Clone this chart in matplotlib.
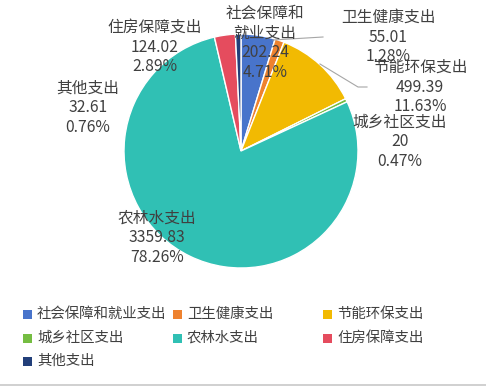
import matplotlib
matplotlib.use("Agg")
import matplotlib.pyplot as plt
from matplotlib.patches import Rectangle

plt.rcParams["font.family"] = ["Noto Sans CJK SC", "DejaVu Sans"]

# 數據
categories = ["社会保障和就业支出", "卫生健康支出", "节能环保支出", "城乡社区支出",
              "农林水支出", "住房保障支出", "其他支出"]
values = [202.24, 55.01, 499.39, 20, 3359.83, 124.02, 32.61]
percents = ["4.71%", "1.28%", "11.63%", "0.47%", "78.26%", "2.89%", "0.76%"]
label_names = ["社会保障和\n就业支出", "卫生健康支出", "节能环保支出", "城乡社区支出",
               "农林水支出", "住房保障支出", "其他支出"]
colors = ["#4874CB", "#EE822F", "#F2BA02", "#75BD42", "#30C0B4", "#E54C5E", "#223F7A"]

W, H = 486, 386
TEXT = "#404040"

fig = plt.figure(figsize=(W / 100, H / 100), dpi=100)
ax = fig.add_axes([0, 0, 1, 1])

cx, cy, r = 241, H - 151, 117
wedges, _ = ax.pie(values, colors=colors, startangle=90, counterclock=False,
                   center=(cx, cy), radius=r,
                   wedgeprops=dict(edgecolor="white", linewidth=1))
ax.set_xlim(0, W)
ax.set_ylim(0, H)
ax.set_aspect("equal")
ax.axis("off")

# 標籤位置（像素座標，y 由上往下）
label_pos = [(265, 43), (388, 37), (420, 87), (400, 142), (157, 238), (155, 47), (88, 108)]
for name, v, p, (px, py) in zip(label_names, values, percents, label_pos):
    vs = f"{v:g}" if v != int(v) else f"{int(v)}"
    ax.text(px, H - py, f"{name}\n{vs}\n{p}", ha="center", va="center",
            fontsize=11.3, color=TEXT, linespacing=1.2)

# 引導線
ax.plot([273, 323], [H - 40, H - 37], color="#a6a6a6", linewidth=0.8)
ax.plot([320, 358, 367], [H - 64, H - 87, H - 87], color="#a6a6a6", linewidth=0.8)

# 圖例（固定欄寬）
col_x = [23, 173, 323]
row_y = [314, 338, 361]
for i, (name, c) in enumerate(zip(categories, colors)):
    x = col_x[i % 3]
    y = row_y[i // 3]
    fig.add_artist(Rectangle((x / W, 1 - (y + 4.5) / H), 9 / W, 9 / H,
                             transform=fig.transFigure, color=c, lw=0))
    fig.text((x + 14) / W, 1 - y / H, name, ha="left", va="center",
             fontsize=10.4, color=TEXT)

# 底部邊線
fig.add_artist(plt.Line2D([0, 1], [1.5 / H, 1.5 / H], transform=fig.transFigure,
                          color="#c8c8c8", linewidth=1.2))

fig.savefig("out.png", dpi=100)
